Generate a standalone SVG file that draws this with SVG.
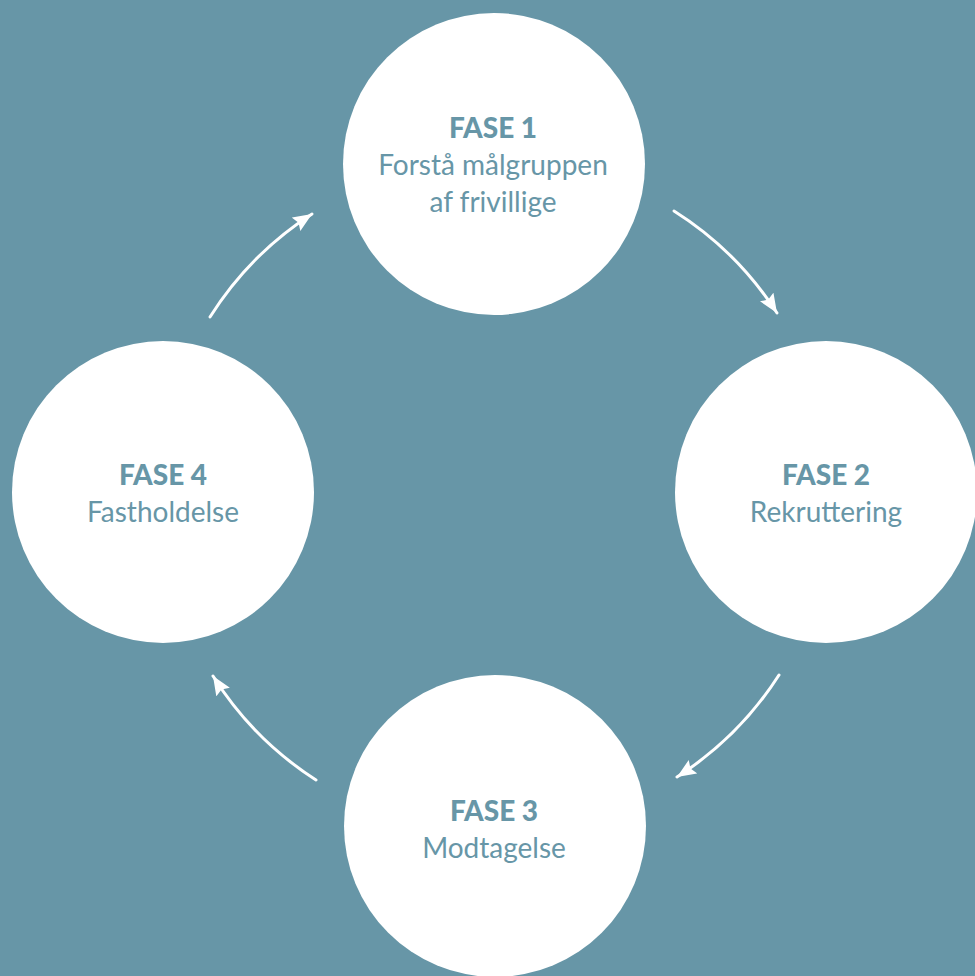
<svg xmlns="http://www.w3.org/2000/svg" width="975" height="976" viewBox="0 0 975 976">
<style>
.node{fill:#ffffff}
.t{font-family:Lato,"Liberation Sans",sans-serif;fill:#6796a7;text-anchor:middle;font-size:28px}
.b{font-weight:900}
.conn{fill:none;stroke:#ffffff;stroke-width:3;stroke-linecap:round}
</style>
<defs>
<marker id="ah" markerUnits="userSpaceOnUse" markerWidth="22" markerHeight="18" refX="19" refY="8" orient="auto">
<path d="M0,0 L19,8 L0,16 L3,8 z" fill="#ffffff"/>
</marker>
</defs>
<rect width="975" height="976" fill="#6796a7"/>
<g id="connectors">
<path class="conn" d="M674,211 A335,335 0 0 1 777,313" marker-end="url(#ah)"/>
<path class="conn" d="M779,675 A335,335 0 0 1 677,777" marker-end="url(#ah)"/>
<path class="conn" d="M316,780 A335,335 0 0 1 213,676" marker-end="url(#ah)"/>
<path class="conn" d="M210,317 A335,335 0 0 1 312,214" marker-end="url(#ah)"/>
</g>
<g id="fase1">
<circle class="node" cx="494" cy="164" r="151"/>
<text class="t b" x="493" y="138">FASE 1</text>
<text class="t" x="493" y="175">Forstå målgruppen</text>
<text class="t" x="493" y="212">af frivillige</text>
</g>
<g id="fase2">
<circle class="node" cx="826" cy="492" r="151"/>
<text class="t b" x="826" y="485">FASE 2</text>
<text class="t" x="826" y="522">Rekruttering</text>
</g>
<g id="fase3">
<circle class="node" cx="495" cy="826" r="151"/>
<text class="t b" x="494" y="821">FASE 3</text>
<text class="t" x="494" y="858">Modtagelse</text>
</g>
<g id="fase4">
<circle class="node" cx="163" cy="492" r="151"/>
<text class="t b" x="163" y="485">FASE 4</text>
<text class="t" x="163" y="522">Fastholdelse</text>
</g>
</svg>
